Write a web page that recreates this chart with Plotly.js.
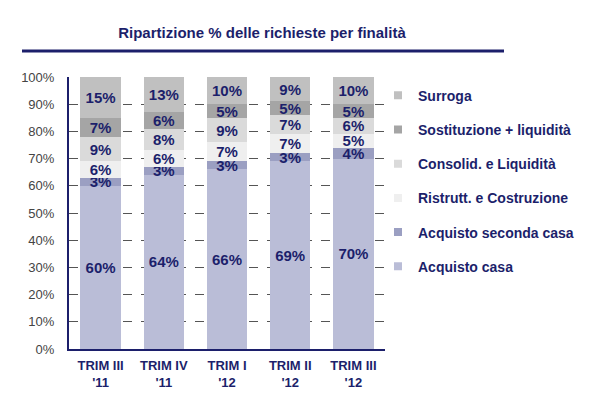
<!DOCTYPE html>
<html><head><meta charset="utf-8">
<script src="https://cdn.plot.ly/plotly-3.0.1.min.js"></script>
<style>html,body{margin:0;padding:0;background:#fff}#chart{width:600px;height:396px}</style>
</head><body><div id="chart"></div>
<script>
const categories = ["TRIM III<br>'11", "TRIM IV<br>'11", "TRIM I<br>'12", "TRIM II<br>'12", "TRIM III<br>'12"];
const acquistoCasa = [60, 64, 66, 69, 70];
const acquistoSecondaCasa = [3, 3, 3, 3, 4];
const ristruttCostruzione = [6, 6, 7, 7, 5];
const consolidLiquidita = [9, 8, 9, 7, 6];
const sostituzioneLiquidita = [7, 6, 5, 5, 5];
const surroga = [15, 13, 10, 9, 10];
const yTicks = [0,10,20,30,40,50,60,70,80,90,100];
const yTickLabels = yTicks.map(v => v + "%");

const navy = "#1c1f6b";
const series = [
  {name: "Acquisto casa", values: acquistoCasa, color: "#babdd7"},
  {name: "Acquisto seconda casa", values: acquistoSecondaCasa, color: "#9b9fc2"},
  {name: "Ristrutt. e Costruzione", values: ristruttCostruzione, color: "#efefef"},
  {name: "Consolid. e Liquidità", values: consolidLiquidita, color: "#dadada"},
  {name: "Sostituzione + liquidità", values: sostituzioneLiquidita, color: "#a5a5a5"},
  {name: "Surroga", values: surroga, color: "#c0c0c0"}
];
const font = "Liberation Sans, Arial, sans-serif";
const traces = series.map((s, i) => ({
  type: "bar", name: s.name, x: categories, y: s.values,
  showlegend: false,
  marker: {color: s.color, line: {width: 0}},
  text: s.values.map(v => v + "%"),
  textposition: "inside", insidetextanchor: "middle", constraintext: "none", textangle: 0,
  textfont: {family: font, size: 15, color: navy, weight: "bold"},
  hoverinfo: "name+y"
}));
const legendTraces = series.map((s, i) => ({
  type: "scatter", mode: "markers", name: s.name, x: [null], y: [null],
  legendgroup: "g" + i, legendrank: 10 - i, showlegend: true,
  marker: {symbol: "square", size: 8, color: s.color}
}));

const layout = {
  width: 600, height: 396,
  paper_bgcolor: "#fff", plot_bgcolor: "#fff",
  margin: {l: 69, r: 215, t: 77, b: 47},
  barmode: "stack", bargap: 0.36,
  title: {text: "<b>Ripartizione % delle richieste per finalità</b>", x: 262/600, xanchor: "center", y: 1 - 33/396, yanchor: "middle",
          font: {family: font, size: 15, color: navy}},
  xaxis: {type: "category", showgrid: false, showline: true, linecolor: navy, linewidth: 2, ticks: "", ticklabelstandoff: 3,
          tickfont: {family: font, size: 13, color: navy, weight: "bold"}},
  yaxis: {range: [0, 100], tickvals: yTicks, ticktext: yTickLabels, showline: true, linecolor: navy, linewidth: 2,
          showgrid: true, gridcolor: "#555", griddash: "dash", gridwidth: 1, zeroline: false,
          tickfont: {family: font, size: 13, color: "#444"}, ticks: "", ticklabelstandoff: 10},
  legend: {x: (378-69)/316, xanchor: "left", y: 0.99, yanchor: "top", traceorder: "grouped", tracegroupgap: 13,
           font: {family: font, size: 14, color: navy, weight: "bold"}, itemwidth: 30, bgcolor: "rgba(0,0,0,0)"},
  shapes: [{type: "line", xref: "paper", yref: "paper", x0: (22-69)/316, x1: (504-69)/316, y0: (349-51)/272, y1: (349-51)/272,
            line: {color: navy, width: 3}}]
};
Plotly.newPlot("chart", traces.concat(legendTraces), layout, {displayModeBar: false, staticPlot: true});
</script></body></html>
